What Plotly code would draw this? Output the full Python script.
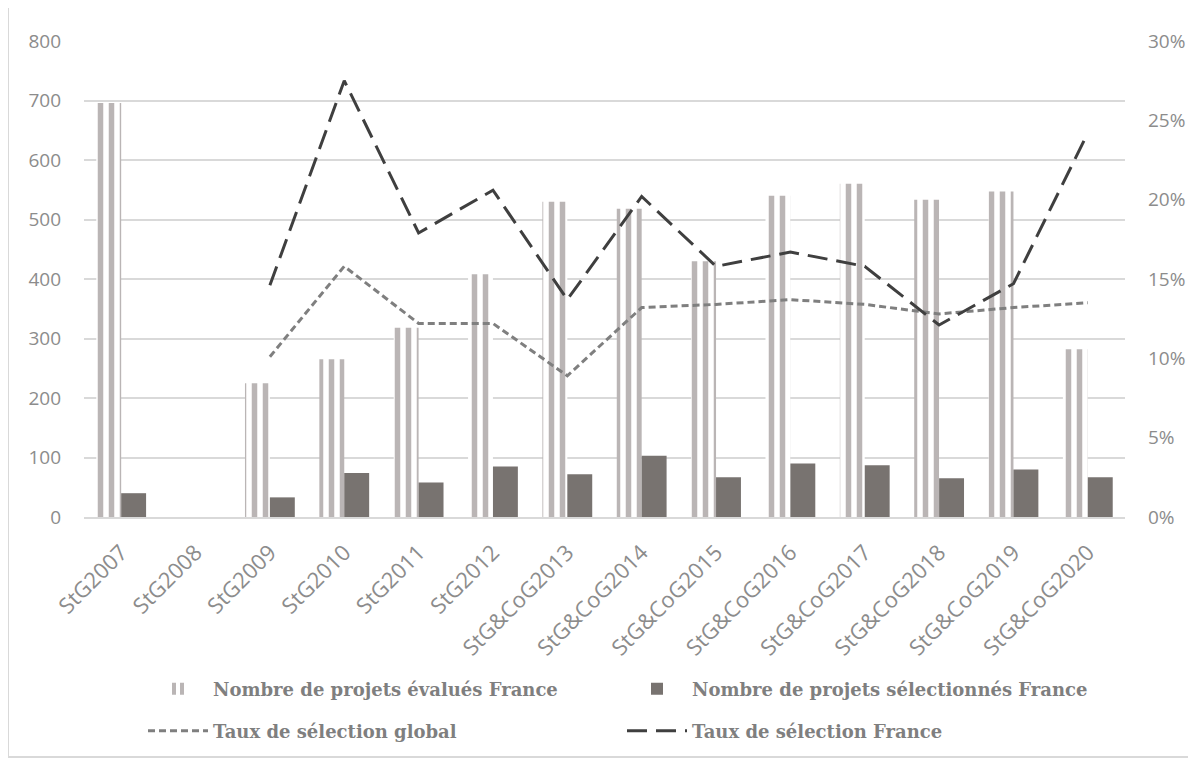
import plotly.graph_objs as go

# data
categories = ['StG2007', 'StG2008', 'StG2009', 'StG2010', 'StG2011', 'StG2012',
              'StG&CoG2013', 'StG&CoG2014', 'StG&CoG2015', 'StG&CoG2016',
              'StG&CoG2017', 'StG&CoG2018', 'StG&CoG2019', 'StG&CoG2020']
evalues = [696, None, 225, 265, 318, 408, 530, 518, 430, 540, 560, 533, 547, 282]
selected = [40, None, 33, 74, 58, 85, 72, 103, 67, 90, 87, 65, 80, 67]
taux_global = [None, None, 0.101, 0.158, 0.122, 0.122, 0.089, 0.132, 0.134, 0.137,
               0.134, 0.128, 0.132, 0.135]
taux_france = [None, None, 0.146, 0.275, 0.179, 0.206, 0.137, 0.202, 0.158, 0.167,
               0.158, 0.121, 0.147, 0.242]

GRID = '#d9d9d9'
TICK = '#8c8c8c'
LEG = '#7f7f7f'
OFF = 8  # page body margin, compensated in the layout

fig = go.Figure()
fig.add_trace(go.Bar(
    name='Nombre de projets évalués France', x=categories, y=evalues,
    marker=dict(color='white', line=dict(width=0),
                pattern=dict(shape='|', fgcolor='#bab5b5', bgcolor='white',
                             fgopacity=1, size=11, solidity=0.5)),
    legend='legend'
))
fig.add_trace(go.Bar(
    name='Nombre de projets sélectionnés France', x=categories, y=selected,
    marker=dict(color='#787370', line=dict(width=0)),
    legend='legend'
))
fig.add_trace(go.Scatter(
    name='Taux de sélection global', x=categories, y=taux_global, yaxis='y2',
    mode='lines', line=dict(color='#7f7f7f', width=3, dash='7px,4px'),
    legend='legend2'
))
fig.add_trace(go.Scatter(
    name='Taux de sélection France', x=categories, y=taux_france, yaxis='y2',
    mode='lines', line=dict(color='#3f3f3f', width=3, dash='20px,9px'),
    legend='legend2'
))

leg_font = dict(family='DejaVu Serif', size=18, color=LEG, weight='bold')
leg_common = dict(orientation='h', xref='container', yref='container',
                  xanchor='left', yanchor='middle', entrywidth=404,
                  itemwidth=60, bgcolor='rgba(0,0,0,0)', font=leg_font)

fig.update_layout(
    width=1196, height=760,
    margin=dict(l=84 - OFF, r=71 + OFF, t=41 - OFF, b=243 + OFF, autoexpand=False),
    paper_bgcolor='white', plot_bgcolor='white',
    barmode='group', bargap=0.33, bargroupgap=0,
    font=dict(family='Open Sans', color=TICK, size=18),
    xaxis=dict(tickangle=-45, tickfont=dict(size=22, color=TICK),
               showline=True, linecolor=GRID, linewidth=2, showgrid=False,
               ticks='', automargin=False, ticklabelstandoff=12),
    yaxis=dict(range=[0, 800], dtick=100, gridcolor=GRID, gridwidth=2,
               zeroline=False, ticks='', tickfont=dict(size=19, color=TICK),
               ticklabelstandoff=22, automargin=False),
    yaxis2=dict(range=[0, 0.30], dtick=0.05, tickformat='.0%', overlaying='y',
                side='right', showgrid=False, zeroline=False, ticks='',
                tickfont=dict(size=19, color=TICK), ticklabelstandoff=22,
                automargin=False),
    legend=dict(x=(143 - OFF) / 1196, y=1 - (689 - OFF) / 760, **leg_common),
    legend2=dict(x=(143 - OFF) / 1196, y=1 - (731 - OFF) / 760, **leg_common),
    shapes=[
        dict(type='line', xref='paper', yref='paper', x0=-0.073, x1=-0.073,
             y0=-0.504, y1=1.09, line=dict(color=GRID, width=2)),
        dict(type='line', xref='paper', yref='paper', x0=-0.073, x1=1.07,
             y0=-0.504, y1=-0.504, line=dict(color=GRID, width=2)),
    ],
)

fig.write_html('out.html')
